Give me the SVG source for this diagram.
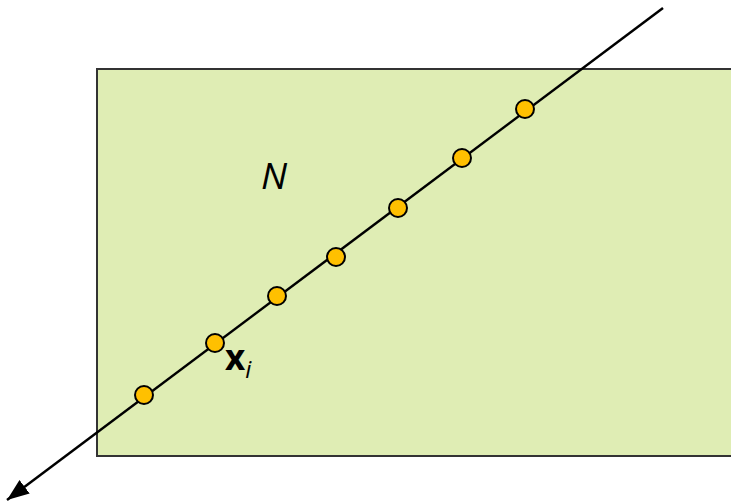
<svg xmlns="http://www.w3.org/2000/svg" width="731" height="503" viewBox="0 0 731 503">
<style>
.pt{fill:#FFC000;stroke:#000;stroke-width:2}
.lbl{font-family:"Open Sans","Liberation Sans",sans-serif;fill:#000}
</style>
<defs>
<marker id="ah2" viewBox="0 0 22 17" refX="22" refY="8.5" markerWidth="22" markerHeight="17" orient="auto" markerUnits="userSpaceOnUse">
<path d="M0,0 L22,8.5 L0,17 z" fill="#000"/>
</marker>
</defs>
<g id="region">
<rect x="97" y="69" width="640" height="387" fill="#DFEDB4" stroke="#333" stroke-width="2"/>
<text class="lbl" x="261" y="189" font-size="37" font-style="italic">N</text>
</g>
<g id="connectors">
<line x1="663" y1="8" x2="7" y2="500" stroke="#000" stroke-width="2.5" marker-end="url(#ah2)"/>
</g>
<g id="points">
<circle class="pt" cx="525" cy="109" r="9"/>
<circle class="pt" cx="462" cy="158" r="9"/>
<circle class="pt" cx="398" cy="208" r="9"/>
<circle class="pt" cx="336" cy="257" r="9"/>
<circle class="pt" cx="277" cy="296" r="9"/>
<circle class="pt" cx="215" cy="343" r="9"/>
<circle class="pt" cx="144" cy="395" r="9"/>
</g>
<g id="label-xi">
<text class="lbl" x="225" y="370" font-size="35" font-weight="bold">x<tspan font-weight="normal" font-style="italic" font-size="24" dy="8">i</tspan></text>
</g>
</svg>
